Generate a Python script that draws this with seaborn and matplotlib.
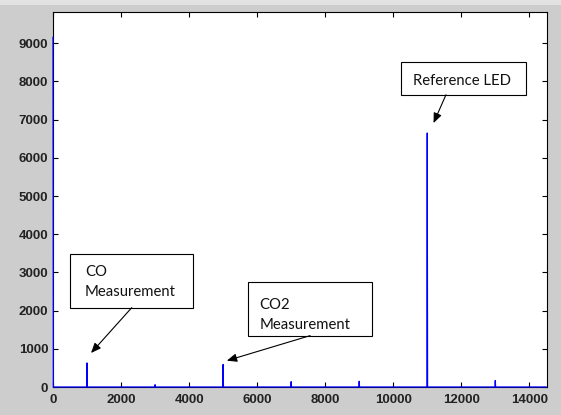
import numpy as np
import pandas as pd
import matplotlib
matplotlib.use("Agg")
import matplotlib.pyplot as plt
import seaborn as sns
from matplotlib.patches import Rectangle

# ---------------- data ----------------
peak_freqs = [0, 1000, 3000, 5000, 7000, 9000, 11000, 13000]
peak_amps = [9160, 630, 60, 590, 140, 150, 6650, 170]
freq_step = 10
freq_max = 14500
x_ticks = [0, 2000, 4000, 6000, 8000, 10000, 12000, 14000]
y_ticks = [0, 1000, 2000, 3000, 4000, 5000, 6000, 7000, 8000, 9000]
annot_texts = ["CO\nMeasurement", "CO2\nMeasurement", "Reference LED"]

# spectrum: zero everywhere except the measured peaks
freqs = np.arange(0, freq_max + freq_step, freq_step)
amps = np.zeros(len(freqs))
amps[np.searchsorted(freqs, peak_freqs)] = peak_amps
df = pd.DataFrame({"freq": freqs, "amp": amps})

# ---------------- style ----------------
sns.set_style("ticks")
plt.rcParams["font.family"] = ["Liberation Sans", "DejaVu Sans"]

fig = plt.figure(figsize=(5.61, 4.15), dpi=100, facecolor="#cdcdcd")
fig.patches.append(Rectangle((0, 0.988), 1, 0.012, transform=fig.transFigure,
                             facecolor="#e2e2e2", edgecolor="none", zorder=0))
ax = fig.add_axes([53 / 561, 1 - 387 / 415, (547 - 53) / 561, (387 - 11.5) / 415])
ax.set_facecolor("white")

sns.lineplot(data=df, x="freq", y="amp", color="#0000ff", linewidth=0.9,
             ax=ax, zorder=3, clip_on=False)

ax.set_xlim(0, 14520)
ax.set_ylim(0, 9830)
ax.set_xticks(x_ticks)
ax.set_yticks(y_ticks)
ax.set_xticklabels([str(t) for t in x_ticks])
ax.set_yticklabels([str(t) for t in y_ticks])
ax.set_xlabel("")
ax.set_ylabel("")

for s in ax.spines.values():
    s.set_visible(True)
    s.set_color("black")
    s.set_linewidth(0.8)

ax.tick_params(direction="in", length=3.6, width=0.8, top=True, right=True,
               labelsize=9.5, colors="black", labelcolor="#222222")
ax.tick_params(axis="x", pad=5.2)
ax.tick_params(axis="y", pad=3.4)
for lab in ax.get_xticklabels() + ax.get_yticklabels():
    lab.set_fontweight("bold")

# ---------------- annotations ----------------
boxes = [
    (500, 2078, 4126 - 500, 3477 - 2078),
    (5745, 1345, 9374 - 5745, 2743 - 1345),
    (10226, 7650, 13903 - 10226, 8507 - 7650),
]
# positions of the last text line's baseline
text_pos = [(941, 2392, "left"), (6068, 1512, "left"), (12035, 7912, "center")]
arrows = [
    ((2315, 2078), (1118, 890)),
    ((7559, 1345), (5109, 689)),
    ((11550, 7650), (11185, 6909)),
]

for (bx, by, bw, bh), (tx, ty, ha), txt, (start, tip) in zip(boxes, text_pos,
                                                             annot_texts, arrows):
    ax.add_patch(Rectangle((bx, by), bw, bh, facecolor="white",
                           edgecolor="black", linewidth=0.8, zorder=5))
    ax.text(tx, ty, txt, ha=ha, va="baseline", fontsize=10.7,
            family=["Lato", "DejaVu Sans"], color="#111111",
            linespacing=1.55, zorder=6)
    ax.annotate("", xy=tip, xytext=start,
                arrowprops=dict(arrowstyle="-|>,head_length=0.6,head_width=0.25",
                                color="black", lw=0.8, mutation_scale=10,
                                shrinkA=0, shrinkB=0),
                zorder=6)

fig.savefig("out.png", dpi=100, facecolor=fig.get_facecolor())
